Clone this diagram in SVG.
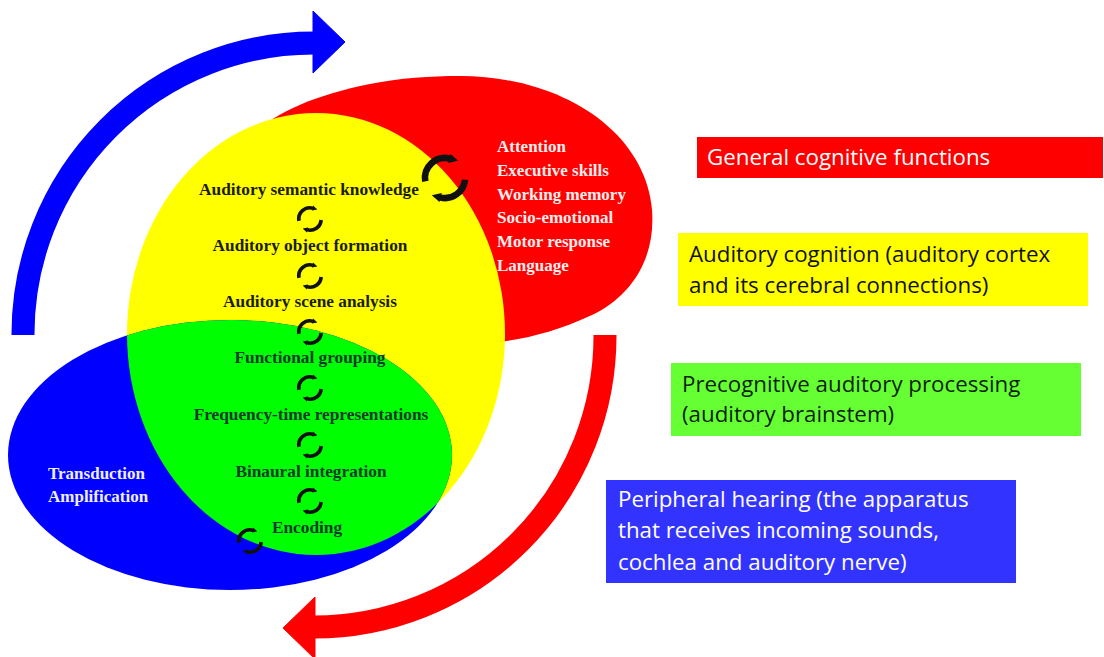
<svg xmlns="http://www.w3.org/2000/svg" width="1104" height="657" viewBox="0 0 1104 657">
  <style>
    .lbl { font-family: "Liberation Serif", "Times New Roman", serif; font-weight: bold; font-size: 17.3px; text-anchor: middle; }
    .onY { fill: #1b1b12; }
    .onG { fill: #0f3a30; }
    .list { font-family: "Liberation Serif", "Times New Roman", serif; font-weight: bold; font-size: 17px; fill: #fdeeee; }
    .side { font-family: "Liberation Serif", "Times New Roman", serif; font-weight: bold; font-size: 17px; fill: #eeeeff; }
    .box { font-family: "Open Sans", "Noto Sans", sans-serif; font-size: 22.3px; }
    .cyc path { fill: none; stroke: #111; stroke-width: 3.3; stroke-linecap: butt; }
  </style>
  <defs>
    <marker id="ah" viewBox="0 0 10 10" refX="1" refY="5" markerWidth="1.4" markerHeight="1.5" orient="auto" markerUnits="strokeWidth">
      <path d="M0,0 L10,5 L0,10 z" fill="#111"/>
    </marker>
    <!-- two-arc cycle symbol, radius 10 -->
    <g id="cyc" class="cyc">
      <path d="M -9.85 1.7 A 10 10 0 0 1 2.6 -9.66" marker-end="url(#ah)"/>
      <path d="M 9.96 0.87 A 10 10 0 0 1 -2.6 9.66" marker-end="url(#ah)"/>
    </g>
    <clipPath id="yellowClip">
      <ellipse cx="316" cy="334" rx="189" ry="221"/>
    </clipPath>
    <!-- curved block arrow: shaft + head -->
    <g id="bigArrow">
      <path d="M 23 335 A 291 291 0 0 1 314 43" fill="none" stroke-width="23"/>
      <polygon points="313,11 345,42 313,73"/>
    </g>
  </defs>

  <rect width="1104" height="657" fill="#ffffff"/>

  <!-- General cognitive functions (red) -->
  <g id="node-general-cognitive">
    <path d="M 235 170 C 240 130 290 100 370 84 C 400 78 430 76 460 76 C 560 76 645 130 652 210 C 656 262 628 298 592 315 C 560 330 530 338 500 342 C 440 342 320 300 262 240 Z" fill="#ff0000"/>
  </g>

  <!-- Auditory cognition (yellow) -->
  <g id="node-auditory-cognition">
    <ellipse cx="316" cy="334" rx="189" ry="221" fill="#ffff00"/>
  </g>

  <!-- Peripheral hearing (blue) and precognitive processing (green overlap) -->
  <g id="node-peripheral">
    <ellipse cx="230" cy="455" rx="222" ry="135" fill="#0000ff"/>
  </g>
  <g id="node-precognitive">
    <ellipse cx="230" cy="455" rx="222" ry="135" fill="#00ff00" clip-path="url(#yellowClip)"/>
  </g>

  <!-- Labels inside the shapes -->
  <g id="labels-red">
    <text class="list" x="497" y="152">Attention</text>
    <text class="list" x="497" y="176">Executive skills</text>
    <text class="list" x="497" y="200">Working memory</text>
    <text class="list" x="497" y="223">Socio-emotional</text>
    <text class="list" x="497" y="247">Motor response</text>
    <text class="list" x="497" y="271">Language</text>
  </g>
  <g id="labels-stages">
    <text class="lbl onY" x="309" y="195">Auditory semantic knowledge</text>
    <text class="lbl onY" x="310" y="251">Auditory object formation</text>
    <text class="lbl onY" x="310" y="307">Auditory scene analysis</text>
    <text class="lbl onG" x="310" y="363">Functional grouping</text>
    <text class="lbl onG" x="311" y="420">Frequency-time representations</text>
    <text class="lbl onG" x="311" y="477">Binaural integration</text>
    <text class="lbl onG" x="307" y="533">Encoding</text>
  </g>
  <g id="labels-blue">
    <text class="side" x="48" y="479">Transduction</text>
    <text class="side" x="48" y="502">Amplification</text>
  </g>

  <!-- Connectors: big circulating arrows and the small cycle symbols -->
  <g id="connectors">
    <use href="#bigArrow" fill="#0000ff" stroke="#0000ff"/>
    <use href="#bigArrow" fill="#ff0000" stroke="#ff0000" transform="rotate(180 314 335)"/>
    <use href="#cyc" transform="translate(445 178) scale(2)"/>
    <use href="#cyc" transform="translate(310 219) scale(1.12)"/>
    <use href="#cyc" transform="translate(310 276) scale(1.12)"/>
    <use href="#cyc" transform="translate(310 332) scale(1.12)"/>
    <use href="#cyc" transform="translate(310 388) scale(1.12)"/>
    <use href="#cyc" transform="translate(310 445) scale(1.12)"/>
    <use href="#cyc" transform="translate(310 501) scale(1.12)"/>
    <use href="#cyc" transform="translate(250 541) scale(1.12)"/>
  </g>

  <!-- Legend boxes -->
  <g id="legend-general">
    <rect x="697" y="137" width="406" height="41" fill="#ff0000"/>
    <text class="box" x="707" y="165" fill="#ffffff">General cognitive functions</text>
  </g>
  <g id="legend-cognition">
    <rect x="678" y="233" width="410" height="73" fill="#ffff00"/>
    <text class="box" x="689" y="262" fill="#111111">Auditory cognition (auditory cortex</text>
    <text class="box" x="689" y="293" fill="#111111">and its cerebral connections)</text>
  </g>
  <g id="legend-precognitive">
    <rect x="671" y="363" width="410" height="73" fill="#66ff33"/>
    <text class="box" x="682" y="392" fill="#0b1f0b">Precognitive auditory processing</text>
    <text class="box" x="682" y="422" fill="#0b1f0b">(auditory brainstem)</text>
  </g>
  <g id="legend-peripheral">
    <rect x="606" y="480" width="410" height="103" fill="#3333ff"/>
    <text class="box" x="618" y="507" fill="#ffffff">Peripheral hearing (the apparatus</text>
    <text class="box" x="618" y="538" fill="#ffffff">that receives incoming sounds,</text>
    <text class="box" x="618" y="570" fill="#ffffff">cochlea and auditory nerve)</text>
  </g>
</svg>
